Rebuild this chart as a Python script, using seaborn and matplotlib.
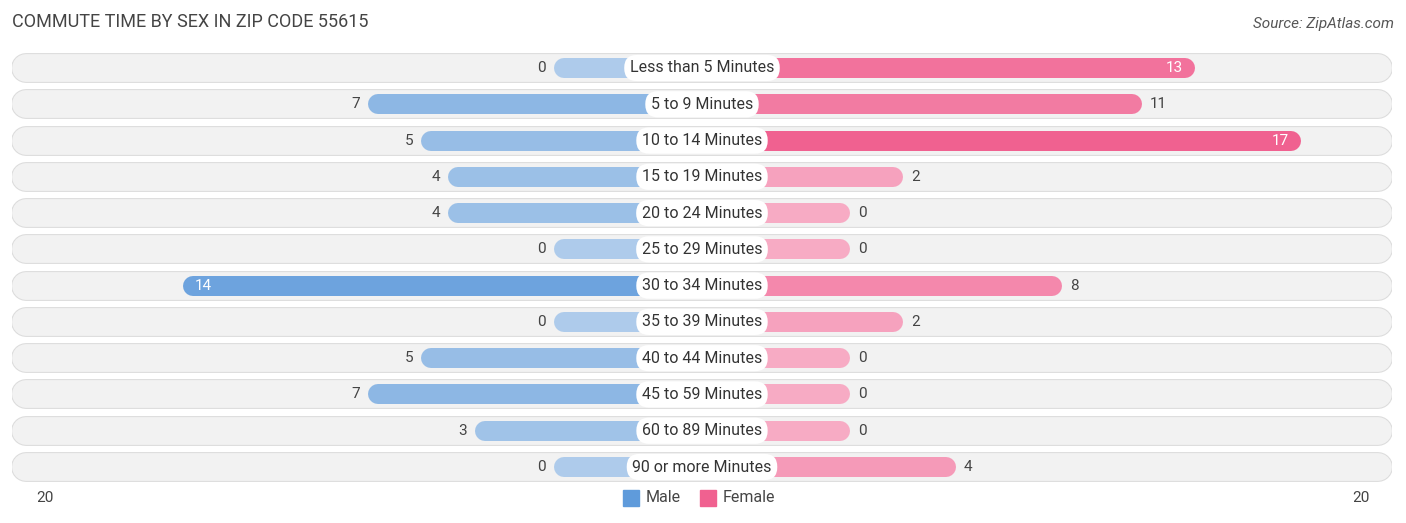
import matplotlib.pyplot as plt
import matplotlib.colors as mcolors
import numpy as np
import seaborn as sns

categories = ["Less than 5 Minutes", "5 to 9 Minutes", "10 to 14 Minutes", "15 to 19 Minutes",
              "20 to 24 Minutes", "25 to 29 Minutes", "30 to 34 Minutes", "35 to 39 Minutes",
              "40 to 44 Minutes", "45 to 59 Minutes", "60 to 89 Minutes", "90 or more Minutes"]
male = [0, 7, 5, 4, 4, 0, 14, 0, 5, 7, 3, 0]
female = [13, 11, 17, 2, 0, 0, 8, 2, 0, 0, 0, 4]

sns.set_style("white")
plt.rcParams["font.family"] = "Roboto"

W, H = 1406, 523
fig = plt.figure(figsize=(W / 100, H / 100), dpi=100)
# axes spans x px 12..1392, y px 50..486
ax = fig.add_axes([12 / W, 1 - 486 / H, 1380 / W, 436 / H])
PX = 26.5            # pixels per unit
OFF = 148 / PX       # minimum bar length (under the label)
XL = 690 / PX
ax.set_xlim(-XL, XL)
RY = (467 - 68) / 11
ax.set_ylim(11 + (486 - 467) / RY, -(68 - 50) / RY)
ax.axis("off")

m_light, m_dark = np.array(mcolors.to_rgb("#aecbeb")), np.array(mcolors.to_rgb("#5f9bdb"))
f_light, f_dark = np.array(mcolors.to_rgb("#f7abc4")), np.array(mcolors.to_rgb("#f06190"))
vmax = max(max(male), max(female))
cap_bar = 10 / PX
cap_bg = 14 / PX

for i, (cat, m, f) in enumerate(zip(categories, male, female)):
    ax.hlines(i, -XL + cap_bg, XL - cap_bg, color="#dcdcdc", lw=21.5, capstyle="round", zorder=1)
    ax.hlines(i, -XL + cap_bg, XL - cap_bg, color="#f2f2f2", lw=20, capstyle="round", zorder=1)
    mc = m_light + (m_dark - m_light) * (m / vmax)
    fc = f_light + (f_dark - f_light) * (f / vmax)
    ml = OFF + m
    fl = OFF + f
    ax.hlines(i, -ml + cap_bar, 0, color=mc, lw=14.4, capstyle="round", zorder=2)
    ax.hlines(i, 0, fl - cap_bar, color=fc, lw=14.4, capstyle="round", zorder=2)
    if m >= 12:
        ax.text(-ml + 12 / PX, i, str(m), color="white", ha="left", va="center", fontsize=11, zorder=4)
    else:
        ax.text(-ml - 8 / PX, i, str(m), color="#444444", ha="right", va="center", fontsize=11, zorder=4)
    if f >= 12:
        ax.text(fl - 12 / PX, i, str(f), color="white", ha="right", va="center", fontsize=11, zorder=4)
    else:
        ax.text(fl + 8 / PX, i, str(f), color="#444444", ha="left", va="center", fontsize=11, zorder=4)
    ax.text(0, i, cat, ha="center", va="center", fontsize=11.5, color="#333333", zorder=5,
            bbox=dict(boxstyle="round,pad=0.35,rounding_size=0.8", fc="white", ec="none"))

fig.text(12 / W, 1 - 22 / H, "COMMUTE TIME BY SEX IN ZIP CODE 55615", fontsize=13, color="#444444", va="center")
fig.text(1394 / W, 1 - 24 / H, "Source: ZipAtlas.com", fontsize=11, color="#555555", style="italic",
         ha="right", va="center")
fig.text(45 / W, 1 - 498 / H, "20", fontsize=11, color="#444444", ha="center", va="center")
fig.text(1361 / W, 1 - 498 / H, "20", fontsize=11, color="#444444", ha="center", va="center")
fig.patches.append(plt.Rectangle((623 / W, 1 - 506 / H), 16 / W, 16 / H, color="#5f9bdb", transform=fig.transFigure))
fig.text(646 / W, 1 - 498 / H, "Male", fontsize=11.5, color="#444444", va="center")
fig.patches.append(plt.Rectangle((700 / W, 1 - 506 / H), 16 / W, 16 / H, color="#f06190", transform=fig.transFigure))
fig.text(723 / W, 1 - 498 / H, "Female", fontsize=11.5, color="#444444", va="center")

fig.savefig("out.png", dpi=100)
